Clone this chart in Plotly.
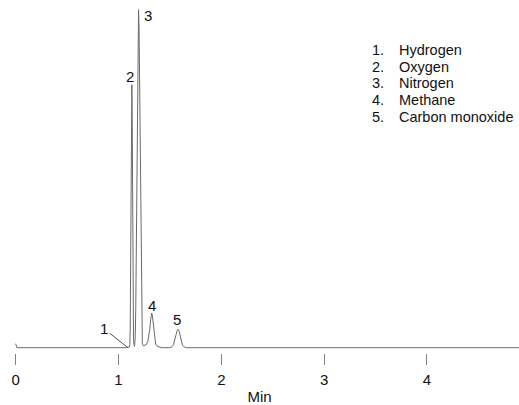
import plotly.graph_objects as go

# Chromatogram trace (time in min, detector signal in arbitrary units)
time_min = [0.000, 0.004, 0.012, 1.070, 1.085, 1.095, 1.105,
            1.110, 1.114, 1.118, 1.122, 1.126, 1.130, 1.134, 1.138, 1.142, 1.146, 1.150, 1.154,
            1.158, 1.163, 1.168, 1.173, 1.178, 1.183, 1.189, 1.195, 1.200, 1.205, 1.210, 1.215,
            1.219, 1.223, 1.227, 1.232, 1.240,
            1.270, 1.285, 1.295, 1.305, 1.313, 1.319, 1.323, 1.328, 1.335, 1.343, 1.352, 1.362,
            1.375, 1.395, 1.420,
            1.500, 1.520, 1.535, 1.548, 1.560, 1.570, 1.579, 1.588, 1.598, 1.610, 1.622, 1.638,
            1.660, 4.900]
signal = [4.0, 1.0, 0.0, 0.0, 0.8, 0.5, 0.3,
          3, 20, 90, 190, 250, 263, 220, 120, 40, 10, 3, 1.5,
          3, 12, 40, 100, 180, 260, 325, 338, 320, 270, 200, 140,
          80, 35, 12, 4, 2,
          3, 6, 11, 19, 28, 33, 34.5, 33, 26, 16, 8, 3.5,
          1.5, 0.5, 0.0,
          0.0, 1.0, 3.0, 7.0, 13.0, 17.0, 18.5, 17.0, 12.0, 6.0, 2.5, 0.8,
          0.0, 0.0]

# Peak identification
peak_numbers = ["1", "2", "3", "4", "5"]
peak_names = ["Hydrogen", "Oxygen", "Nitrogen", "Methane", "Carbon monoxide"]
peak_times = [1.092, 1.130, 1.195, 1.323, 1.579]
peak_heights = [0.0, 263, 338, 34.5, 18.5]

tick_vals = [0, 1, 2, 3, 4]
tick_text = ["0", "1", "2", "3", "4"]

FONT = "Liberation Sans, Arial, sans-serif"
W, H = 519, 405
ML, MR, MT, MB = 0, 0, 0, 52

fig = go.Figure()
fig.add_trace(go.Scatter(x=time_min, y=signal, mode="lines",
                         line=dict(color="#6a6a6a", width=1), hoverinfo="skip",
                         showlegend=False))

# peak labels
label_offsets = [(-25, -20), (-2, 8), (9, -6), (0, 8), (-1, 10)]
for i, (num, t, h) in enumerate(zip(peak_numbers, peak_times, peak_heights)):
    dx, dy = label_offsets[i]
    if i == 0:
        fig.add_annotation(x=t, y=h, text=num, showarrow=True, arrowhead=0,
                           arrowwidth=1, arrowcolor="#505050", ax=-24, ay=-19,
                           standoff=0, startstandoff=0,
                           font=dict(family=FONT, size=15, color="#111"))
    else:
        fig.add_annotation(x=t, y=h, text=num, showarrow=False,
                           xshift=dx, yshift=dy, yanchor="middle",
                           font=dict(family=FONT, size=15, color="#111"))

# legend text block
plot_h = H - MT - MB
row0 = 50
for i, (num, name) in enumerate(zip(peak_numbers, peak_names)):
    ypx = row0 + i * 16.7
    yp = 1 - (ypx - MT) / plot_h
    fig.add_annotation(xref="paper", yref="paper", x=371 / W, y=yp, text=num + ".",
                       showarrow=False, xanchor="left", yanchor="middle",
                       height=16, borderpad=0, valign="middle",
                       font=dict(family=FONT, size=14.5, color="#111"))
    fig.add_annotation(xref="paper", yref="paper", x=398 / W, y=yp, text=name,
                       showarrow=False, xanchor="left", yanchor="middle",
                       height=16, borderpad=0, valign="middle",
                       font=dict(family=FONT, size=14.5, color="#111"))

px_per_min = 102.8
x0_px = 15.7
fig.update_layout(
    width=W, height=H,
    margin=dict(l=ML, r=MR, t=MT, b=MB, pad=0, autoexpand=False),
    plot_bgcolor="white", paper_bgcolor="white",
    xaxis=dict(range=[-x0_px / px_per_min, (W - x0_px) / px_per_min],
               tickvals=tick_vals, ticktext=tick_text, automargin=False,
               ticks="outside", ticklen=11, tickwidth=1, tickcolor="#808080",
               showline=False, zeroline=False, showgrid=False,
               ticklabelstandoff=2,
               tickfont=dict(family=FONT, size=15, color="#111"),
               title=dict(text="Min", font=dict(family=FONT, size=15, color="#111"), standoff=9)),
    yaxis=dict(range=[-5.3, plot_h - 5.3], visible=False, showgrid=False, zeroline=False),
)
fig.write_html("out.html")
